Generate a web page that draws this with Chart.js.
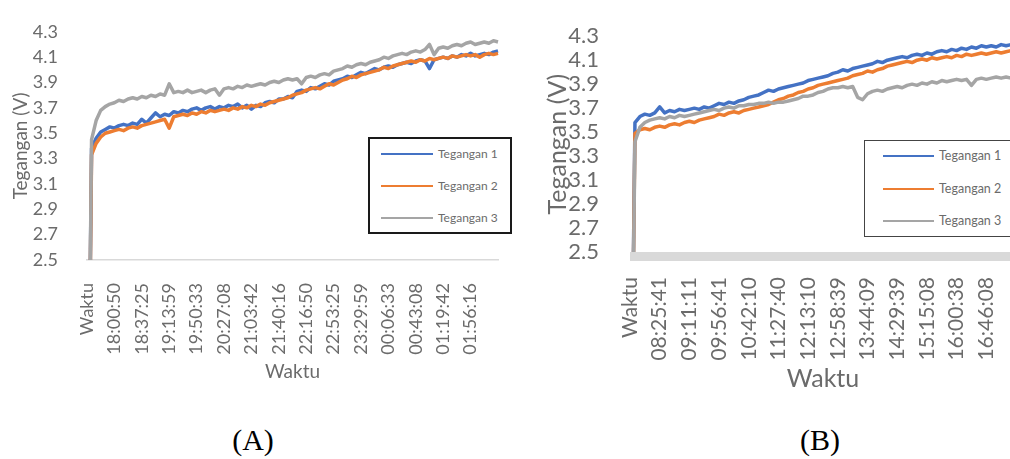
<!DOCTYPE html>
<html>
<head>
<meta charset="utf-8">
<title>Tegangan terhadap Waktu</title>
<script src="https://cdn.jsdelivr.net/npm/chart.js@4.4.1/dist/chart.umd.min.js"></script>
<style>
  html, body { margin: 0; padding: 0; background: #fff; }
  body { width: 1010px; height: 459px; overflow: hidden; position: relative; font-family: Lato, "Open Sans", sans-serif; }
  canvas { position: absolute; top: 0; }
  #chartA { left: 0; }
  #chartB { left: 540px; }
  .legend { position: absolute; background: #fff; box-sizing: border-box; }
  .legend .swatch { position: absolute; height: 2.5px; }
  .legend .name { position: absolute; color: #6b6b6b; white-space: nowrap; line-height: 1; transform: translateY(-50%); }
  .caption { position: absolute; top: 425px; font-family: "Liberation Serif", "Times New Roman", serif; font-size: 30px; line-height: 30px; color: #000; transform: translateX(-50%); }
</style>
</head>
<body>
<canvas id="chartA" width="520" height="400"></canvas>
<canvas id="chartB" width="492" height="400"></canvas>
<div class="caption" style="left:253px">(A)</div>
<div class="caption" style="left:820px">(B)</div>
<script>
// Series names and colours shared by both panels
const seriesNames = ['Tegangan 1', 'Tegangan 2', 'Tegangan 3'];
const seriesColors = ['#4472C4', '#ED7D31', '#A5A5A5'];

// Panel A: one labelled time every 6 readings; first row is the header ("Waktu")
const rowsPerTickA = 6;
const timeTicksA = ['Waktu', '18:00:50', '18:37:25', '19:13:59', '19:50:33', '20:27:08', '21:03:42',
  '21:40:16', '22:16:50', '22:53:25', '23:29:59', '00:06:33', '00:43:08', '01:19:42', '01:56:16'];

const teganganA1 = [0, 3.38,3.46,3.51,3.53,3.55,3.54,3.56,3.57,3.56,3.58,
  3.57,3.61,3.58,3.62,3.66,3.63,3.65,3.64,3.67,3.66,
  3.68,3.67,3.69,3.70,3.68,3.70,3.71,3.69,3.71,3.70,
  3.72,3.71,3.73,3.70,3.72,3.69,3.72,3.71,3.74,3.75,
  3.74,3.77,3.77,3.79,3.78,3.83,3.84,3.83,3.86,3.85,
  3.87,3.89,3.88,3.91,3.92,3.93,3.95,3.94,3.96,3.98,
  3.97,3.99,4.01,4.00,4.02,4.03,4.02,4.04,4.05,4.06,
  4.05,4.07,4.08,4.07,4.01,4.08,4.09,4.10,4.09,4.11,
  4.10,4.12,4.11,4.13,4.11,4.12,4.13,4.12,4.14,4.15];

const teganganA2 = [0, 3.33,3.42,3.47,3.50,3.51,3.52,3.53,3.52,3.54,3.55,
  3.54,3.56,3.57,3.58,3.59,3.60,3.61,3.54,3.63,3.64,
  3.65,3.64,3.66,3.65,3.67,3.66,3.68,3.67,3.68,3.69,
  3.68,3.70,3.69,3.71,3.70,3.72,3.71,3.73,3.72,3.74,
  3.75,3.76,3.77,3.78,3.80,3.81,3.82,3.84,3.85,3.86,
  3.85,3.87,3.89,3.88,3.90,3.92,3.93,3.95,3.94,3.96,
  3.97,3.98,3.99,4.00,4.02,4.01,4.03,4.04,4.05,4.06,
  4.07,4.06,4.08,4.07,4.09,4.08,4.09,4.10,4.09,4.11,
  4.10,4.11,4.12,4.11,4.12,4.10,4.12,4.13,4.12,4.13];

const teganganA3 = [0, 3.45,3.60,3.68,3.71,3.73,3.74,3.76,3.75,3.77,3.78,
  3.77,3.79,3.78,3.80,3.79,3.81,3.80,3.89,3.82,3.83,
  3.82,3.84,3.82,3.83,3.84,3.82,3.84,3.85,3.80,3.85,
  3.86,3.85,3.87,3.86,3.88,3.87,3.88,3.89,3.88,3.90,
  3.91,3.90,3.92,3.93,3.92,3.93,3.89,3.94,3.95,3.94,
  3.96,3.97,3.96,3.99,4.00,4.01,4.03,4.02,4.04,4.05,
  4.04,4.06,4.07,4.08,4.10,4.09,4.11,4.12,4.13,4.12,
  4.14,4.15,4.14,4.16,4.20,4.12,4.17,4.18,4.17,4.19,
  4.20,4.19,4.21,4.22,4.20,4.21,4.22,4.21,4.23,4.22];

// Panel B
const rowsPerTickB = 6;
const timeTicksB = ['Waktu', '08:25:41', '09:11:11', '09:56:41', '10:42:10', '11:27:40', '12:13:10',
  '12:58:39', '13:44:09', '14:29:39', '15:15:08', '16:00:38', '16:46:08'];

const teganganB1 = [0, 3.58,3.63,3.65,3.64,3.66,3.71,3.66,3.68,3.67,3.69,
  3.68,3.69,3.70,3.69,3.71,3.70,3.72,3.74,3.73,3.75,
  3.74,3.76,3.77,3.79,3.80,3.81,3.83,3.85,3.84,3.86,
  3.87,3.88,3.89,3.90,3.91,3.93,3.94,3.95,3.96,3.97,
  3.99,4.00,4.02,4.01,4.03,4.04,4.05,4.06,4.07,4.09,
  4.08,4.10,4.11,4.12,4.13,4.12,4.14,4.15,4.14,4.16,
  4.15,4.17,4.18,4.17,4.19,4.18,4.20,4.19,4.21,4.20,
  4.22,4.21,4.22,4.21,4.23,4.22,4.23,4.22];

const teganganB2 = [0, 3.49,3.52,3.53,3.52,3.54,3.55,3.54,3.56,3.57,3.56,
  3.58,3.59,3.58,3.60,3.61,3.62,3.63,3.65,3.64,3.66,
  3.67,3.66,3.68,3.69,3.70,3.71,3.72,3.73,3.75,3.77,
  3.78,3.80,3.81,3.83,3.84,3.86,3.87,3.89,3.90,3.91,
  3.92,3.93,3.94,3.95,3.97,3.98,3.99,4.01,4.00,4.02,
  4.03,4.05,4.06,4.07,4.08,4.09,4.08,4.10,4.11,4.10,
  4.12,4.11,4.12,4.13,4.12,4.14,4.13,4.15,4.14,4.15,
  4.16,4.15,4.16,4.17,4.16,4.17,4.18,4.17];

const teganganB3 = [0, 3.42,3.54,3.58,3.60,3.61,3.62,3.61,3.63,3.62,3.64,
  3.63,3.64,3.65,3.66,3.67,3.68,3.69,3.68,3.70,3.71,
  3.70,3.72,3.72,3.73,3.73,3.74,3.74,3.75,3.74,3.75,
  3.75,3.76,3.77,3.78,3.80,3.80,3.81,3.83,3.84,3.86,
  3.87,3.87,3.88,3.87,3.88,3.79,3.77,3.82,3.84,3.85,
  3.84,3.86,3.87,3.88,3.87,3.89,3.90,3.89,3.91,3.90,
  3.92,3.91,3.93,3.92,3.93,3.94,3.93,3.94,3.89,3.94,
  3.95,3.94,3.95,3.96,3.95,3.96,3.95,3.96];

const voltMin = 2.5;
const voltMax = 4.3;
const voltStep = 0.2;

const textGray = '#6b6b6b';
const fontFamily = 'Lato, "Open Sans", sans-serif';

// Thick light band under the plot area (used as the horizontal axis line in panel B)
const axisBand = {
  id: 'axisBand',
  beforeDatasetsDraw(chart, args, opts) {
    if (!opts.height) return;
    const { ctx, chartArea } = chart;
    ctx.save();
    ctx.fillStyle = opts.color;
    ctx.fillRect(chartArea.left, chartArea.bottom, chartArea.right - chartArea.left, opts.height);
    ctx.restore();
  }
};

function voltageChart(canvasId, p) {
  const rows = p.series[0];
  const labels = rows.map((_, i) =>
    i % p.rowsPerTick === 0 ? (p.ticks[i / p.rowsPerTick] ?? '') : '');
  return new Chart(document.getElementById(canvasId), {
    type: 'line',
    plugins: [axisBand],
    data: {
      labels,
      datasets: p.series.map((values, k) => ({
        label: seriesNames[k],
        data: values,
        borderColor: seriesColors[k],
        backgroundColor: seriesColors[k],
        borderWidth: p.lineWidth,
        borderJoinStyle: 'round',
        pointRadius: 0,
        tension: 0,
        // later series sit on top, as in the spreadsheet chart
        order: p.series.length - 1 - k
      }))
    },
    options: {
      responsive: false,
      animation: false,
      events: [],
      layout: { padding: { top: p.top, right: p.right, left: 0, bottom: 0 } },
      plugins: {
        legend: { display: false },
        tooltip: { enabled: false },
        axisBand: { color: '#d9d9d9', height: p.band }
      },
      scales: {
        x: {
          type: 'category',
          grid: { display: false },
          border: { display: p.xBorder > 0, color: '#d9d9d9', width: p.xBorder },
          ticks: {
            autoSkip: false, maxRotation: 90, minRotation: 90,
            padding: p.xTickPad, color: textGray,
            font: { family: fontFamily, size: p.xTickSize }
          },
          title: {
            display: true, text: 'Waktu', color: textGray,
            font: { family: fontFamily, size: p.titleSize },
            padding: { top: 0, bottom: p.xTitlePad }
          },
          afterFit(scale) {
            scale.height = p.xHeight;
            // the plot edges are set by the layout padding alone
            scale.paddingLeft = 0;
            scale.paddingRight = 0;
          }
        },
        y: {
          min: voltMin, max: voltMax,
          grid: { display: false },
          border: { display: false },
          ticks: {
            autoSkip: false,
            stepSize: voltStep, padding: p.yTickPad, color: textGray,
            font: { family: fontFamily, size: p.yTickSize },
            callback: v => Number(v).toFixed(1)
          },
          title: {
            display: true, text: 'Tegangan (V)', color: textGray,
            font: { family: fontFamily, size: p.titleSize },
            padding: { top: p.yTitlePad, bottom: 0 }
          },
          afterFit(scale) { scale.width = p.yWidth; }
        }
      }
    }
  });
}

function drawLegend(box) {
  const el = document.createElement('div');
  el.className = 'legend';
  Object.assign(el.style, {
    left: box.left + 'px', top: box.top + 'px',
    width: box.width + 'px', height: box.height + 'px', border: box.border
  });
  seriesNames.forEach((name, k) => {
    const sw = document.createElement('div');
    sw.className = 'swatch';
    Object.assign(sw.style, {
      left: box.swatchLeft + 'px', top: (box.rows[k] - 1.25) + 'px',
      width: box.swatchWidth + 'px', background: seriesColors[k]
    });
    const tx = document.createElement('div');
    tx.className = 'name';
    tx.textContent = name;
    Object.assign(tx.style, {
      left: box.textLeft + 'px', top: box.rows[k] + 'px', fontSize: box.fontSize + 'px'
    });
    el.appendChild(sw);
    el.appendChild(tx);
  });
  document.body.appendChild(el);
}

voltageChart('chartA', {
  series: [teganganA1, teganganA2, teganganA3],
  rowsPerTick: rowsPerTickA, ticks: timeTicksA,
  lineWidth: 3.5, top: 22, right: 22,
  yWidth: 87, yTickPad: 21, yTickSize: 18, yTitlePad: 9,
  xHeight: 140, xTickPad: 15, xTickSize: 18, xTitlePad: 17,
  titleSize: 19, xBorder: 1.5, band: 0
});

voltageChart('chartB', {
  series: [teganganB1, teganganB2, teganganB3],
  rowsPerTick: rowsPerTickB, ticks: timeTicksB,
  lineWidth: 3.5, top: 23, right: 16,
  yWidth: 90, yTickPad: 23, yTickSize: 22, yTitlePad: 3,
  xHeight: 148, xTickPad: 17, xTickSize: 21, xTitlePad: 6,
  titleSize: 25, xBorder: 0, band: 9
});

drawLegend({ left: 368, top: 137, width: 144, height: 97, border: '2px solid #1a1a1a',
  swatchLeft: 11, swatchWidth: 52, textLeft: 68, rows: [15, 47, 79], fontSize: 12 });
drawLegend({ left: 864, top: 140, width: 190, height: 97, border: '1px solid #444',
  swatchLeft: 18, swatchWidth: 51, textLeft: 74, rows: [15, 48, 80], fontSize: 12.5 });
</script>
</body>
</html>
